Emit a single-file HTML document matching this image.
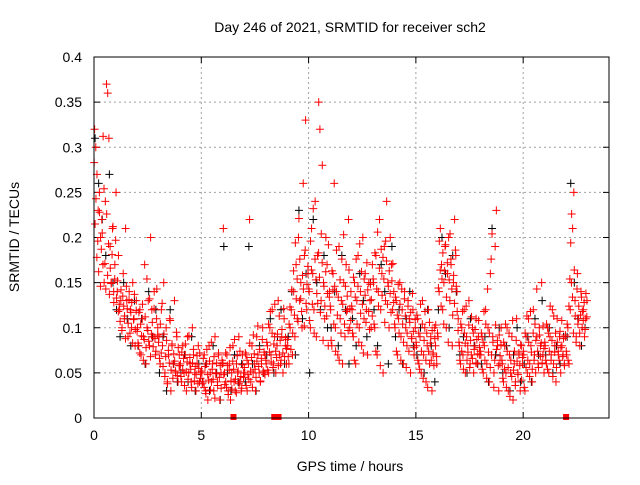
<!DOCTYPE html>
<html><head><meta charset="utf-8"><style>
html,body{margin:0;padding:0;background:#fff;}
svg text{font-family:"Liberation Sans",sans-serif;font-size:14px;fill:#000;}
</style></head><body>
<svg id="chart" width="640" height="480" xmlns="http://www.w3.org/2000/svg">
<rect width="640" height="480" fill="#fff"/>
<g id="grid"></g>
<g id="ticks"></g>
<g id="black"></g>
<g id="red"></g>
<g id="marks"></g>
<rect x="94" y="57" width="515" height="361" fill="none" stroke="#000" stroke-width="1"/>
<text x="350" y="32" text-anchor="middle">Day 246 of 2021, SRMTID for receiver sch2</text>
<text x="350" y="471" text-anchor="middle">GPS time / hours</text>
<text x="0" y="0" text-anchor="middle" transform="translate(19,237) rotate(-90)">SRMTID / TECUs</text>
</svg>
<script>
const xTicks=[0,5,10,15,20];
const yTicks=[0,0.05,0.1,0.15,0.2,0.25,0.3,0.35,0.4];
const yTickLabels=["0","0.05","0.1","0.15","0.2","0.25","0.3","0.35","0.4"];
const gapMarks=[6.5,8.4,8.6,22];
const redVals=[
[.32,.30,.27,.23,.25,.20,.22,.17,.15,.24,.37,.36,.31,.19,.15,.21,.14,.17],
[.25,.14,.18,.12,.13,.10,.16,.11,.21,.13,.09,.14,.12,.10,.15,.11,.08,.13],
[.10,.08,.12,.07,.11,.09,.17,.06,.10,.13,.08,.20,.12,.09,.14,.07,.11,.10],
[.09,.06,.12,.08,.15,.05,.10,.04,.07,.11,.03,.08,.06,.13,.05,.09,.04,.07],
[.06,.04,.08,.05,.07,.03,.09,.05,.06,.04,.10,.07,.05,.03,.06,.08,.04,.05],
[.05,.04,.07,.03,.06,.02,.08,.05,.04,.06,.03,.09,.05,.04,.07,.02,.05,.06],
[.21,.05,.04,.07,.03,.06,.02,.05,.08,.04,.03,.06,.05,.09,.04,.03,.07,.05],
[.05,.07,.03,.06,.22,.04,.08,.05,.06,.03,.09,.07,.05,.04,.06,.10,.05,.07],
[.06,.08,.05,.10,.07,.12,.06,.09,.05,.08,.13,.07,.06,.09,.05,.11,.08,.06],
[.08,.06,.10,.12,.07,.14,.09,.17,.11,.20,.13,.15,.10,.26,.18,.33,.12,.16],
[.14,.10,.21,.16,.12,.24,.09,.18,.35,.32,.13,.28,.15,.11,.20,.17,.08,.14],
[.12,.08,.16,.26,.10,.14,.07,.19,.11,.13,.06,.15,.09,.17,.12,.22,.10,.14],
[.12,.09,.15,.06,.13,.18,.10,.14,.08,.20,.11,.16,.12,.07,.15,.13,.10,.17],
[.15,.10,.18,.07,.14,.22,.12,.16,.05,.19,.13,.24,.15,.10,.20,.17,.12,.14],
[.10,.13,.07,.11,.15,.09,.12,.06,.14,.10,.08,.13,.11,.05,.09,.12,.07,.10],
[.08,.11,.06,.09,.05,.13,.07,.10,.04,.08,.12,.06,.09,.03,.07,.10,.08,.06],
[.09,.14,.21,.17,.12,.15,.19,.10,.16,.20,.13,.17,.08,.15,.22,.18,.14,.11],
[.08,.06,.10,.07,.12,.05,.09,.08,.13,.06,.07,.10,.05,.08,.11,.06,.09,.07],
[.07,.09,.05,.08,.12,.06,.10,.04,.16,.07,.09,.05,.19,.23,.08,.03,.06,.10],
[.06,.04,.08,.05,.10,.03,.07,.05,.09,.02,.06,.04,.11,.05,.07,.03,.08,.06],
[.07,.03,.09,.05,.11,.06,.08,.04,.12,.07,.05,.09,.06,.10,.08,.15,.07,.05],
[.08,.06,.10,.05,.09,.07,.12,.06,.08,.04,.11,.07,.09,.05,.08,.07,.06,.09],
[.07,.10,.06,.12,.15,.21,.25,.13,.09,.16,.11,.08,.14,.10,.12,.09,.11,.13]
];
const redVals2=[
[.283,.215,.243,.178,.196,.162,.228,.146,.187,.205,.312,.254,.171,.143,.226,.158,.193,.137,.166,.149,.181,.212,.128,.154],
[.197,.133,.152,.118,.126,.107,.142,.097,.135,.124,.113,.088,.146,.121,.105,.131,.094,.117,.128,.083,.109,.137,.098,.119],
[.096,.083,.117,.072,.104,.091,.126,.064,.087,.112,.078,.154,.097,.085,.132,.068,.093,.106,.079,.121,.088,.074,.143,.092],
[.084,.066,.104,.072,.127,.057,.093,.046,.068,.086,.038,.075,.061,.108,.053,.082,.044,.071,.063,.052,.095,.047,.078,.058],
[.058,.046,.073,.053,.066,.036,.082,.051,.062,.043,.091,.067,.054,.034,.061,.076,.041,.057,.048,.069,.038,.055,.072,.044],
[.052,.038,.066,.034,.057,.027,.076,.048,.042,.063,.031,.084,.054,.043,.068,.022,.049,.061,.036,.072,.045,.058,.033,.064],
[.061,.048,.037,.072,.034,.058,.026,.053,.078,.041,.032,.063,.054,.087,.043,.028,.069,.052,.038,.074,.046,.033,.059,.045],
[.056,.072,.036,.064,.048,.043,.083,.052,.067,.034,.092,.071,.054,.045,.063,.102,.057,.076,.041,.066,.087,.052,.073,.048],
[.064,.084,.053,.104,.073,.118,.062,.094,.056,.082,.126,.074,.067,.093,.058,.113,.086,.064,.098,.072,.121,.068,.089,.077],
[.087,.068,.104,.123,.076,.142,.094,.163,.114,.194,.132,.154,.107,.221,.176,.132,.118,.158,.143,.102,.186,.127,.148,.168],
[.143,.108,.196,.164,.126,.232,.094,.176,.153,.138,.127,.183,.156,.117,.204,.172,.086,.146,.124,.162,.113,.138,.192,.134],
[.124,.086,.163,.142,.104,.146,.074,.186,.114,.134,.064,.153,.094,.176,.126,.203,.104,.146,.118,.135,.097,.164,.121,.108],
[.124,.094,.156,.064,.134,.176,.104,.146,.084,.193,.116,.162,.126,.072,.154,.136,.106,.172,.142,.118,.098,.148,.131,.113],
[.154,.104,.183,.074,.143,.206,.124,.166,.058,.187,.136,.178,.154,.106,.196,.174,.126,.146,.163,.138,.117,.152,.171,.128],
[.104,.134,.074,.114,.148,.094,.126,.064,.143,.104,.084,.132,.113,.056,.094,.124,.074,.106,.117,.088,.138,.096,.078,.109],
[.084,.114,.064,.094,.054,.126,.074,.104,.044,.086,.118,.064,.094,.034,.074,.106,.083,.064,.097,.072,.058,.088,.103,.068],
[.094,.144,.196,.164,.124,.154,.183,.104,.163,.192,.134,.172,.084,.153,.204,.176,.143,.114,.158,.127,.186,.146,.118,.097],
[.084,.064,.104,.074,.118,.054,.094,.083,.124,.064,.073,.103,.056,.086,.112,.066,.094,.076,.098,.061,.087,.071,.108,.078],
[.074,.094,.054,.084,.118,.064,.104,.044,.143,.073,.094,.056,.176,.204,.084,.034,.064,.103,.076,.086,.058,.092,.069,.081],
[.064,.044,.084,.054,.104,.034,.074,.056,.094,.024,.064,.046,.108,.053,.074,.036,.086,.063,.048,.072,.058,.081,.042,.067],
[.074,.034,.094,.056,.113,.064,.084,.046,.118,.073,.054,.094,.064,.104,.086,.143,.074,.056,.092,.068,.083,.061,.102,.077],
[.084,.064,.104,.054,.094,.074,.124,.064,.086,.046,.113,.073,.094,.056,.084,.074,.064,.096,.078,.108,.068,.088,.058,.092],
[.074,.104,.064,.124,.154,.194,.226,.134,.094,.164,.113,.084,.143,.104,.124,.094,.114,.134,.118,.108,.128,.098,.138,.112]
];
const blackVals=[
[.31,.26,.22,.18,.27,.15],[.12,.09,.15,.11,.08,.13],[.08,.11,.06,.14,.09,.12],
[.05,.09,.03,.12,.06,.04],[.05,.07,.04,.09,.03,.06],[.04,.06,.03,.08,.05,.02],
[.19,.05,.03,.07,.04,.06],[.04,.19,.06,.03,.08,.05],[.07,.11,.05,.09,.12,.06],
[.09,.14,.07,.23,.11,.16],[.05,.22,.15,.12,.18,.10],[.10,.14,.08,.18,.12,.06],
[.11,.08,.16,.13,.09,.15],[.12,.08,.17,.14,.06,.19],[.09,.12,.06,.11,.14,.08],
[.07,.10,.05,.12,.08,.04],[.12,.20,.16,.10,.18,.14],[.07,.09,.05,.11,.08,.06],
[.06,.09,.04,.21,.07,.10],[.05,.08,.03,.07,.10,.04],[.06,.09,.04,.11,.07,.13],
[.07,.10,.05,.08,.06,.09],[.09,.26,.15,.11,.08,.10]
];
const X0=94,X1=609,Y0=418,Y1=57,XMAX=24,YMAX=0.4;
function xs(t){return X0+(X1-X0)*t/XMAX;}
function ys(v){return Y0-(Y0-Y1)*v/YMAX;}
const NS="http://www.w3.org/2000/svg";
function mk(tag,attrs,parent){const e=document.createElementNS(NS,tag);for(const k in attrs)e.setAttribute(k,attrs[k]);parent.appendChild(e);return e;}
const grid=document.getElementById('grid'),ticks=document.getElementById('ticks');
xTicks.forEach(t=>{
  const x=xs(t);
  if(t>0){const g=mk('line',{x1:x,x2:x,y1:Y1,y2:Y0,stroke:'#a0a0a0','stroke-dasharray':'2,3'},grid);
  
  }
  const l=mk('text',{x:x,y:Y0+22,'text-anchor':'middle'},ticks);l.textContent=t;
  
  
  mk('line',{x1:x,x2:x,y1:Y0,y2:Y0-6,stroke:'#000'},ticks);
  mk('line',{x1:x,x2:x,y1:Y1,y2:Y1+6,stroke:'#000'},ticks);
});
yTicks.forEach((v,i)=>{
  const y=ys(v);
  if(v>0&&v<YMAX){const g=mk('line',{x1:X0,x2:X1,y1:y,y2:y,stroke:'#a0a0a0','stroke-dasharray':'2,3'},grid);
  
  }
  const l=mk('text',{x:X0-12,y:y+5,'text-anchor':'end'},ticks);l.textContent=yTickLabels[i];
  
  
  mk('line',{x1:X0,x2:X0+6,y1:y,y2:y,stroke:'#000'},ticks);
  mk('line',{x1:X1,x2:X1-6,y1:y,y2:y,stroke:'#000'},ticks);
});
function plus(g,t,v,col,name){
  const x=xs(t),y=ys(v);
  const p=mk('path',{d:`M${x-4},${y}h8M${x},${y-4}v8`,stroke:col,'stroke-width':1,fill:'none'},g);
  
  
}
const bg=document.getElementById('black'),rg=document.getElementById('red');
blackVals.forEach((arr,h)=>arr.forEach((v,i)=>plus(bg,h+(i+0.3)/arr.length,v,'#000','black-point')));
redVals.forEach((arr,h)=>arr.forEach((v,i)=>plus(rg,h+(i+0.5)/arr.length,v,'#ff0000','red-point')));
redVals2.forEach((arr,h)=>arr.forEach((v,i)=>plus(rg,h+(i+0.2)/arr.length,v,'#ff0000','red-point')));
const mg=document.getElementById('marks');
gapMarks.forEach(t=>{
  const r=mk('rect',{x:xs(t)-3,y:Y0-4,width:6,height:6,fill:'#ff0000'},mg);
  
  
});
</script>
</body></html>
